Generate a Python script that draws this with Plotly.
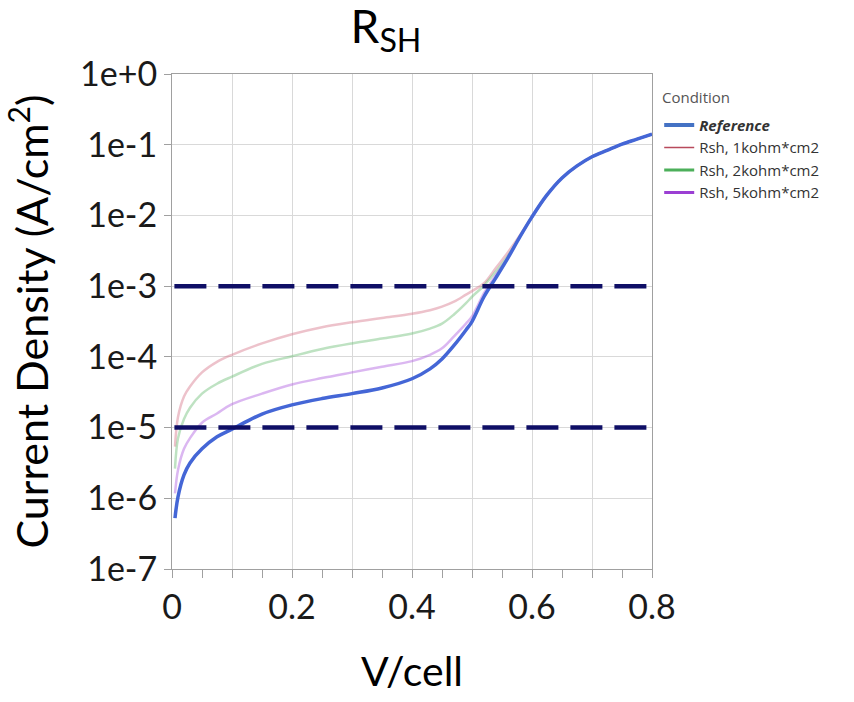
import plotly.graph_objects as go

# ---- data ----
voltage = [0.005, 0.01, 0.02, 0.03, 0.05, 0.075, 0.1, 0.15, 0.2, 0.25, 0.3, 0.35, 0.4,
           0.43, 0.45, 0.47, 0.49, 0.5, 0.52, 0.54, 0.56, 0.58, 0.6, 0.625, 0.65, 0.675, 0.7,
           0.725, 0.75, 0.775, 0.8]

j_reference = [5.25e-7, 1.05e-6, 2.14e-6, 3.16e-6, 5.0e-6, 7.4e-6, 9.5e-6, 1.55e-5, 2.09e-5,
               2.57e-5, 3.02e-5, 3.63e-5, 4.90e-5, 6.76e-5, 9.33e-5, 1.45e-4, 2.40e-4, 3.16e-4,
               7.08e-4, 1.32e-3, 2.51e-3, 5.01e-3, 9.55e-3, 1.95e-2, 3.39e-2, 5.01e-2, 6.76e-2,
               8.32e-2, 0.102, 0.120, 0.141]

j_rsh_1k = [5.37e-6, 1.41e-5, 2.75e-5, 3.80e-5, 6.03e-5, 8.51e-5, 1.07e-4, 1.55e-4, 2.09e-4,
            2.63e-4, 3.09e-4, 3.55e-4, 4.07e-4, 4.57e-4, 5.13e-4, 6.03e-4, 7.59e-4, 8.51e-4,
            1.10e-3, 1.82e-3, 3.02e-3, 5.25e-3, 9.55e-3, 1.95e-2, 3.39e-2, 5.01e-2, 6.76e-2,
            8.32e-2, 0.102, 0.120, 0.141]

j_rsh_2k = [2.63e-6, 7.08e-6, 1.32e-5, 1.91e-5, 3.02e-5, 4.17e-5, 5.25e-5, 7.94e-5, 1.02e-4,
            1.29e-4, 1.55e-4, 1.82e-4, 2.14e-4, 2.51e-4, 2.95e-4, 3.98e-4, 5.75e-4, 7.08e-4,
            1.02e-3, 1.62e-3, 2.69e-3, 5.01e-3, 9.55e-3, 1.95e-2, 3.39e-2, 5.01e-2, 6.76e-2,
            8.32e-2, 0.102, 0.120, 0.141]

j_rsh_5k = [1.17e-6, 2.51e-6, 5.01e-6, 7.08e-6, 1.17e-5, 1.58e-5, 2.14e-5, 3.02e-5, 4.07e-5,
            5.01e-5, 6.03e-5, 7.24e-5, 8.71e-5, 1.07e-4, 1.32e-4, 1.95e-4, 2.95e-4, 3.72e-4,
            7.94e-4, 1.45e-3, 2.57e-3, 5.01e-3, 9.55e-3, 1.95e-2, 3.39e-2, 5.01e-2, 6.76e-2,
            8.32e-2, 0.102, 0.120, 0.141]

series_names = ["<b><i>Reference</i></b>", "Rsh, 1kohm*cm2", "Rsh, 2kohm*cm2", "Rsh, 5kohm*cm2"]
legend_title = "Condition"

limit_levels = [1e-3, 1e-5]
limit_span = [0.004, 0.793]

x_tickvals = [0, 0.1, 0.2, 0.3, 0.4, 0.5, 0.6, 0.7, 0.8]
x_ticktext = ["0", "", "0.2", "", "0.4", "", "0.6", "", "0.8"]
y_tickvals = [1, 1e-1, 1e-2, 1e-3, 1e-4, 1e-5, 1e-6, 1e-7]
y_ticktext = ["1e+0", "1e-1", "1e-2", "1e-3", "1e-4", "1e-5", "1e-6", "1e-7"]

# ---- styles ----
plot_colors = ["#4466d6", "rgba(214,120,140,0.45)", "rgba(110,190,120,0.45)", "rgba(175,95,225,0.45)"]
plot_widths = [3.5, 2.5, 2.5, 2.5]
legend_colors = ["#4472c4", "#b84a5c", "#4caf5a", "#9b3fd3"]
legend_widths = [4, 1.5, 3, 3]

series = [j_reference, j_rsh_1k, j_rsh_2k, j_rsh_5k]

fig = go.Figure()

# pale curves first, reference last (on top)
for idx in [1, 2, 3, 0]:
    fig.add_trace(go.Scatter(
        x=voltage, y=series[idx], mode="lines",
        line=dict(color=plot_colors[idx], width=plot_widths[idx], shape="spline", smoothing=1.0),
        showlegend=False, hoverinfo="skip"))

# legend entries
for idx in range(4):
    fig.add_trace(go.Scatter(
        x=[None], y=[None], mode="lines", name=series_names[idx],
        line=dict(color=legend_colors[idx], width=legend_widths[idx]),
        showlegend=True))

# dashed limit lines
for lvl in limit_levels:
    fig.add_trace(go.Scatter(
        x=limit_span, y=[lvl, lvl], mode="lines",
        line=dict(color="#0f0f66", width=4.5, dash="32px,12px"),
        showlegend=False, hoverinfo="skip"))

big_font = "Lato, 'Open Sans', sans-serif"
small_font = "'Open Sans', sans-serif"

fig.add_annotation(text=legend_title, xref="paper", yref="paper", x=1.017, y=0.9535,
                   xanchor="left", yanchor="middle", showarrow=False,
                   font=dict(family=small_font, size=15, color="#555555"))

fig.update_layout(
    width=854, height=702,
    margin=dict(l=172, r=202, t=74, b=133),
    paper_bgcolor="white", plot_bgcolor="white",
    title=dict(text="R<sub>SH</sub>", x=0.452, xanchor="center", xref="container",
               y=0.985, yanchor="top", yref="container",
               font=dict(family=big_font, size=46, color="black")),
    legend=dict(x=1.015, xanchor="left", y=0.93, yanchor="top",
                font=dict(family=small_font, size=15, color="#333333"),
                bgcolor="rgba(0,0,0,0)", itemwidth=30, tracegroupgap=0),
    xaxis=dict(range=[0, 0.8], tickvals=x_tickvals, ticktext=x_ticktext,
               showgrid=True, gridcolor="#d9d9d9", gridwidth=1,
               showline=True, linecolor="#a0a0a0", linewidth=1, mirror=True,
               ticks="outside", ticklen=8, tickcolor="#a0a0a0",
               minor=dict(dtick=0.05, tick0=0, ticks="outside", ticklen=8, tickcolor="#a0a0a0", showgrid=False),
               zeroline=False,
               tickfont=dict(family=big_font, size=34, color="#1a1a1a"),
               title=dict(text="V/cell", font=dict(family=big_font, size=41, color="black"), standoff=32)),
    yaxis=dict(type="log", range=[-7, 0], tickvals=y_tickvals, ticktext=y_ticktext,
               showgrid=True, gridcolor="#d9d9d9", gridwidth=1,
               showline=True, linecolor="#a0a0a0", linewidth=1, mirror=True,
               ticks="outside", ticklen=7, tickcolor="#a0a0a0",
               zeroline=False,
               tickfont=dict(family=big_font, size=34, color="#1a1a1a"),
               title=dict(text="Current Density (A/cm<sup>2</sup>)",
                          font=dict(family=big_font, size=43, color="black"), standoff=19)),
)

fig.write_html("out.html")
